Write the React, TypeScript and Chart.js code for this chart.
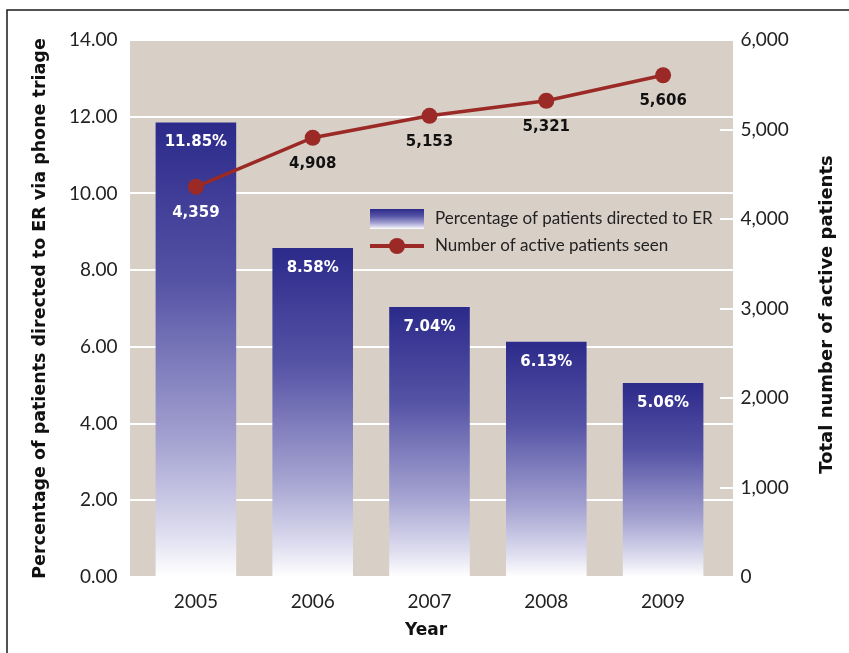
import React, { useEffect, useRef } from "react";
import { Chart, registerables } from "chart.js";

Chart.register(...registerables);

const years = ["2005", "2006", "2007", "2008", "2009"];
const erPercent = [11.85, 8.58, 7.04, 6.13, 5.06];
const activePatients = [4359, 4908, 5153, 5321, 5606];
const leftTicks = [0, 2, 4, 6, 8, 10, 12, 14];
const rightTicks = [0, 1000, 2000, 3000, 4000, 5000, 6000];
const legendLabels = ["Percentage of patients directed to ER", "Number of active patients seen"];
const leftTitle = "Percentage of patients directed to ER via phone triage";
const rightTitle = "Total number of active patients";
const xTitle = "Year";

const BG = "#d8d0c7";
const LINE = "#9b2a27";
const BOLD = "'DejaVu Sans', sans-serif";
const REG = "Lato, 'DejaVu Sans', sans-serif";
const PLOT_EXT_L = 7.5;
const PLOT_EXT_R = 11.5;

function barGradient(ctx: CanvasRenderingContext2D, top: number, bottom: number) {
  const g = ctx.createLinearGradient(0, top, 0, bottom);
  g.addColorStop(0, "#2c2a8a");
  g.addColorStop(0.35, "#5553a5");
  g.addColorStop(0.7, "#a4a2d0");
  g.addColorStop(0.9, "#dddcef");
  g.addColorStop(1, "#ffffff");
  return g;
}

const decorPlugin = {
  id: "decor",
  beforeDraw(chart: any) {
    const { ctx, chartArea: a, scales } = chart;
    const l = a.left - PLOT_EXT_L;
    const r = a.right + PLOT_EXT_R;
    ctx.save();
    ctx.fillStyle = BG;
    ctx.fillRect(l, a.top, r - l, a.bottom - a.top);
    ctx.strokeStyle = "#ffffff";
    ctx.lineWidth = 2;
    leftTicks.forEach((v) => {
      const py = Math.round(scales.y.getPixelForValue(v));
      ctx.beginPath();
      ctx.moveTo(l, py);
      ctx.lineTo(r, py);
      ctx.stroke();
    });
    ctx.restore();
  },
  afterDatasetsDraw(chart: any) {
    const { ctx, chartArea: a, scales } = chart;
    const y1 = scales.y1;
    const r = a.right + PLOT_EXT_R;
    ctx.save();
    ctx.strokeStyle = "#ffffff";
    ctx.lineWidth = 2;
    rightTicks.forEach((v) => {
      const py = Math.round(y1.getPixelForValue(v));
      ctx.beginPath();
      ctx.moveTo(r - 13, py);
      ctx.lineTo(r, py);
      ctx.stroke();
    });
    const barMeta = chart.getDatasetMeta(0);
    ctx.font = `bold 15px ${BOLD}`;
    ctx.textAlign = "center";
    ctx.textBaseline = "middle";
    ctx.fillStyle = "#ffffff";
    barMeta.data.forEach((el: any, i: number) => {
      ctx.fillText(erPercent[i].toFixed(2) + "%", el.x, el.y + 20);
    });
    const lineMeta = chart.getDatasetMeta(1);
    lineMeta.data.forEach((el: any, i: number) => {
      ctx.fillStyle = i === 0 ? "#ffffff" : "#111111";
      ctx.fillText(activePatients[i].toLocaleString("en-US"), el.x, el.y + 26);
    });
    const lx = 370, ly1 = 219, ly2 = 246;
    ctx.fillStyle = barGradient(ctx, ly1 - 10, ly1 + 10);
    ctx.fillRect(lx, ly1 - 10, 54, 20);
    ctx.strokeStyle = LINE;
    ctx.lineWidth = 4;
    ctx.beginPath();
    ctx.moveTo(lx, ly2);
    ctx.lineTo(lx + 54, ly2);
    ctx.stroke();
    ctx.fillStyle = LINE;
    ctx.beginPath();
    ctx.arc(lx + 27, ly2, 8, 0, Math.PI * 2);
    ctx.fill();
    ctx.fillStyle = "#222222";
    ctx.font = `17px ${REG}`;
    ctx.textAlign = "left";
    ctx.fillText(legendLabels[0], 435, ly1);
    ctx.fillText(legendLabels[1], 435, ly2);
    ctx.restore();
  },
  afterDraw(chart: any) {
    const { ctx, chartArea: a } = chart;
    const cy = (a.top + a.bottom) / 2;
    ctx.save();
    ctx.fillStyle = "#111111";
    ctx.font = `bold 17.5px ${BOLD}`;
    ctx.textAlign = "center";
    ctx.textBaseline = "middle";
    ctx.save();
    ctx.translate(40, cy);
    ctx.rotate(-Math.PI / 2);
    ctx.fillText(leftTitle, 0, 0);
    ctx.restore();
    ctx.font = `bold 18px ${BOLD}`;
    ctx.save();
    ctx.translate(827, cy + 6);
    ctx.rotate(-Math.PI / 2);
    ctx.fillText(rightTitle, 0, 0);
    ctx.restore();
    ctx.font = `bold 17px ${BOLD}`;
    ctx.fillText(xTitle, 426, 631);
    ctx.strokeStyle = "#1a1a1a";
    ctx.lineWidth = 1.5;
    ctx.beginPath();
    ctx.moveTo(7, 653);
    ctx.lineTo(7, 10);
    ctx.lineTo(849, 10);
    ctx.stroke();
    ctx.restore();
  },
};

export default function App() {
  const ref = useRef<HTMLCanvasElement>(null);
  useEffect(() => {
    if (!ref.current) return;
    const chart = new Chart(ref.current, {
      type: "bar",
      data: {
        labels: years,
        datasets: [
          {
            type: "bar",
            label: legendLabels[0],
            data: erPercent,
            yAxisID: "y",
            order: 1,
            barPercentage: 0.69,
            categoryPercentage: 1,
            borderWidth: 0,
            backgroundColor: (c: any) => {
              const chart = c.chart;
              const { ctx, chartArea, scales } = chart;
              if (!chartArea || c.raw === undefined) return "#3b3a95";
              const top = scales.y.getPixelForValue(c.raw);
              const bottom = scales.y.getPixelForValue(0);
              return barGradient(ctx, top, bottom);
            },
          } as any,
          {
            type: "line",
            label: legendLabels[1],
            data: activePatients,
            yAxisID: "y1",
            order: 0,
            borderColor: LINE,
            backgroundColor: LINE,
            borderWidth: 3.5,
            pointRadius: 8,
            pointBackgroundColor: LINE,
            pointBorderWidth: 0,
            tension: 0,
          } as any,
        ],
      },
      options: {
        responsive: false,
        animation: false,
        layout: { padding: { top: 40, left: 0, right: 0, bottom: 0 } },
        plugins: { legend: { display: false }, tooltip: { enabled: false } },
        scales: {
          x: {
            grid: { display: false },
            border: { display: false },
            ticks: { font: { family: REG, size: 19 }, color: "#222", padding: 5 },
            afterFit: (s: any) => { s.height = 76; },
          },
          y: {
            position: "left",
            min: leftTicks[0],
            max: leftTicks[leftTicks.length - 1],
            afterBuildTicks: (s: any) => { s.ticks = leftTicks.map((v) => ({ value: v })); },
            grid: { display: false, drawTicks: false },
            border: { display: false },
            ticks: {
              font: { family: REG, size: 19 },
              color: "#222",
              padding: 20,
              callback: (v: any) => Number(v).toFixed(2),
            },
            afterFit: (s: any) => { s.width = 137.5; },
          },
          y1: {
            position: "right",
            min: rightTicks[0],
            max: rightTicks[rightTicks.length - 1],
            afterBuildTicks: (s: any) => { s.ticks = rightTicks.map((v) => ({ value: v })); },
            grid: { display: false, drawTicks: false },
            border: { display: false },
            ticks: {
              font: { family: REG, size: 19 },
              color: "#222",
              padding: 19,
              callback: (v: any) => Number(v).toLocaleString("en-US"),
            },
            afterFit: (s: any) => { s.width = 127.5; },
          },
        },
      },
      plugins: [decorPlugin],
    });
    return () => chart.destroy();
  }, []);
  return (
    <div style={{ position: "absolute", left: 0, top: 0, width: 849, height: 653, background: "#fff" }}>
      <canvas ref={ref} width={849} height={653} style={{ display: "block" }} />
    </div>
  );
}
